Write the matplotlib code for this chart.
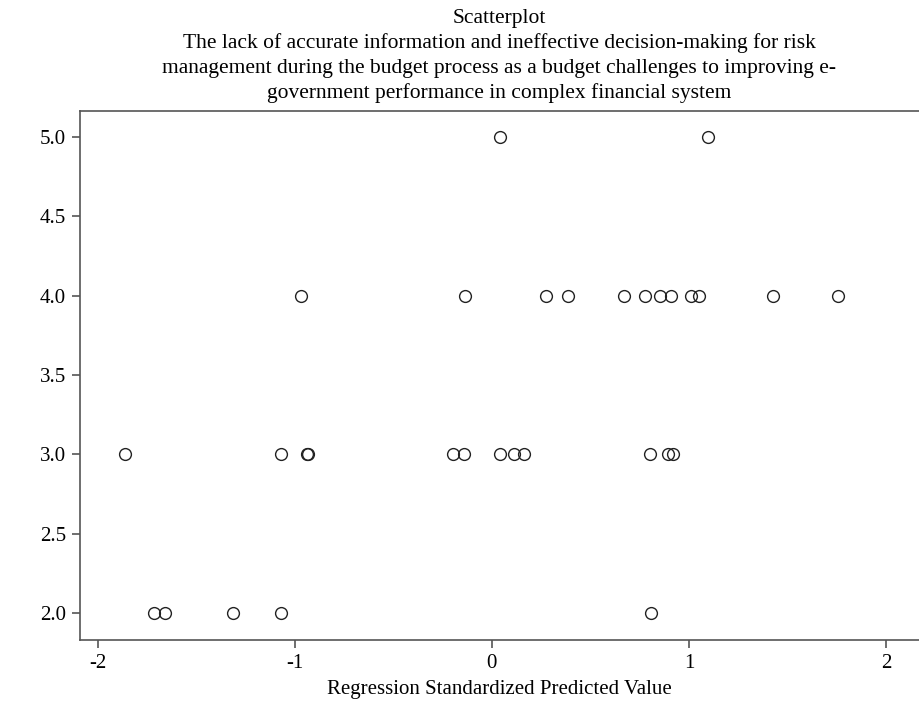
import matplotlib
matplotlib.use("Agg")
import matplotlib.pyplot as plt

plt.rcParams['font.family'] = ['Liberation Serif', 'DejaVu Serif']
plt.rcParams['axes.unicode_minus'] = False

# predicted values (x) grouped by observed response (y)
x_resp5 = [0.040, 1.097]
x_resp4 = [-0.970, -0.138, 0.275, 0.384, 0.672, 0.775, 0.852, 0.911, 1.009, 1.052, 1.428, 1.759]
x_resp3 = [-1.862, -1.073, -0.940, -0.935, -0.198, -0.143, 0.041, 0.112, 0.161, 0.803, 0.895, 0.917]
x_resp2 = [-1.715, -1.660, -1.312, -1.073, 0.808]

xs = x_resp5 + x_resp4 + x_resp3 + x_resp2
ys = [5.0] * len(x_resp5) + [4.0] * len(x_resp4) + [3.0] * len(x_resp3) + [2.0] * len(x_resp2)

title = ("Scatterplot\n"
         "The lack of accurate information and ineffective decision-making for risk\n"
         "management during the budget process as a budget challenges to improving e-\n"
         "government performance in complex financial system")

fig = plt.figure(figsize=(9.19, 7.05), dpi=100)
ax = fig.add_axes([0.087, 0.092, 0.913, 0.751])

ax.plot(xs, ys, linestyle='none', marker='o', markersize=8.5,
        markerfacecolor='none', markeredgecolor='#222222', markeredgewidth=1.0)

ax.set_xlim(-2.091, 2.168)
ax.set_ylim(1.83, 5.164)
ax.set_xticks([-2, -1, 0, 1, 2])
ax.set_yticks([2.0, 2.5, 3.0, 3.5, 4.0, 4.5, 5.0])
ax.set_yticklabels(['2.0', '2.5', '3.0', '3.5', '4.0', '4.5', '5.0'])
ax.tick_params(labelsize=15, color='#555555', length=6, width=1.2, pad=4)

for s in ax.spines.values():
    s.set_color('#555555')
    s.set_linewidth(1.2)
ax.spines['right'].set_visible(False)

ax.set_xlabel('Regression Standardized Predicted Value', fontsize=15, labelpad=5)
ax.set_title(title, fontsize=15.5, linespacing=1.38, pad=9)

plt.savefig('out.png', dpi=100)
